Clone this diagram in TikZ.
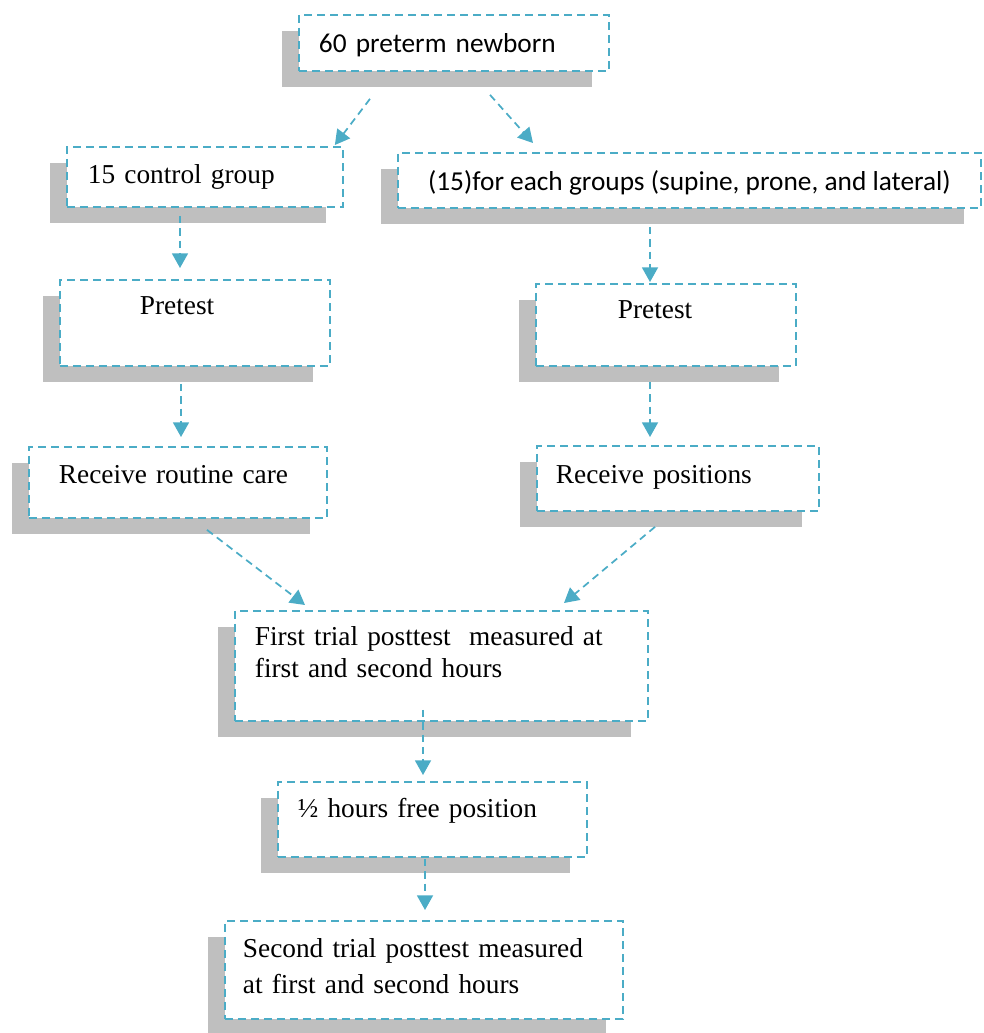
\documentclass[tikz,border=0pt]{standalone}
\usepackage{fontspec}
\setmainfont{Liberation Serif}
\newfontfamily\calfont{Carlito}
\usepackage{tikz}
\usetikzlibrary{arrows.meta,shadows}
\definecolor{boxblue}{RGB}{75,172,198}

\begin{document}
\begin{tikzpicture}[x=0.75pt,y=-0.75pt,
    flowbox/.style={draw=boxblue,line width=1.4pt,dash pattern=on 6pt off 3.75pt,fill=white,
      anchor=north west,align=left,inner ysep=0pt,
      font=\fontsize{20.5}{24}\selectfont,
      drop shadow={shadow xshift=-12.4pt,shadow yshift=-12.4pt,fill=gray!50,opacity=1}},
    calbox/.style={flowbox,font=\calfont\fontsize{20.5}{24}\selectfont},
    flowarrow/.style={draw=boxblue,line width=1.3pt,dash pattern=on 5.5pt off 3.75pt,
      -{Triangle[length=11pt,width=12pt]}}]
  \useasboundingbox (0,0) rectangle (983,1033);

  \node[calbox,inner xsep=15pt,text width=202.5pt,text height=28.5pt,text depth=13.5pt]
    (newborn) at (298,14) {60 preterm newborn};
  \node[flowbox,inner xsep=15.75pt,text width=175.5pt,text height=27.75pt,text depth=17.25pt]
    (control) at (66,146) {15 control group};
  \node[calbox,inner xsep=10pt,minimum width=437.25pt,text height=28.5pt,text depth=12.75pt]
    (groups) at (397,152) {(15)for each groups (supine, prone, and lateral)};
  \node[flowbox,inner xsep=60pt,text width=82.5pt,text height=26.25pt,text depth=38.25pt]
    (prectl) at (59,279) {Pretest};
  \node[flowbox,inner xsep=61.5pt,text width=72pt,text height=26.25pt,text depth=35.25pt]
    (prepos) at (535,283) {Pretest};
  \node[flowbox,inner xsep=22.5pt,text width=178.5pt,text height=27.75pt,text depth=25.5pt]
    (routine) at (28,446) {Receive routine care};
  \node[flowbox,inner xsep=14.25pt,text width=183pt,text height=28.5pt,text depth=20.25pt]
    (positions) at (536,445) {Receive positions};
  \node[flowbox,inner xsep=15pt,text width=279.75pt,text height=26.25pt,text depth=56.25pt]
    (firsttrial) at (234,610) {First trial posttest\ \ measured at\\first and second hours};
  \node[flowbox,inner xsep=15pt,text width=201.75pt,text height=27pt,text depth=29.25pt]
    (freepos) at (277,781) {½ hours free position};
  \node[flowbox,inner xsep=13.5pt,text width=271.5pt,text height=27.75pt,text depth=45.75pt]
    (secondtrial) at (224,920) {Second trial posttest measured\\[3pt]at first and second hours};

  \draw[flowarrow] ([shift={(72,27)}]newborn.south west) -- ([shift={(-9,-1)}]control.north east);
  \draw[flowarrow] ([shift={(192,23)}]newborn.south west) -- ([shift={(136,-9)}]groups.north west);
  \draw[flowarrow] ([shift={(114,8)}]control.south west) -- ([shift={(121,-11)}]prectl.north west);
  \draw[flowarrow] ([shift={(253,18)}]groups.south west) -- ([shift={(115,-1)}]prepos.north west);
  \draw[flowarrow] ([shift={(122,17)}]prectl.south west) -- ([shift={(153,-9)}]routine.north west);
  \draw[flowarrow] ([shift={(115,15)}]prepos.south west) -- ([shift={(114,-8)}]positions.north west);
  \draw[flowarrow] ([shift={(179,11)}]routine.south west) -- ([shift={(71,-5)}]firsttrial.north west);
  \draw[flowarrow] ([shift={(119,15)}]positions.south west) -- ([shift={(330,-7)}]firsttrial.north west);
  \draw[flowarrow] ([shift={(189,-12)}]firsttrial.south west) -- ([shift={(146,-6)}]freepos.north west);
  \draw[flowarrow] ([shift={(148,1)}]freepos.south west) -- ([shift={(201,-10)}]secondtrial.north west);
\end{tikzpicture}
\end{document}
